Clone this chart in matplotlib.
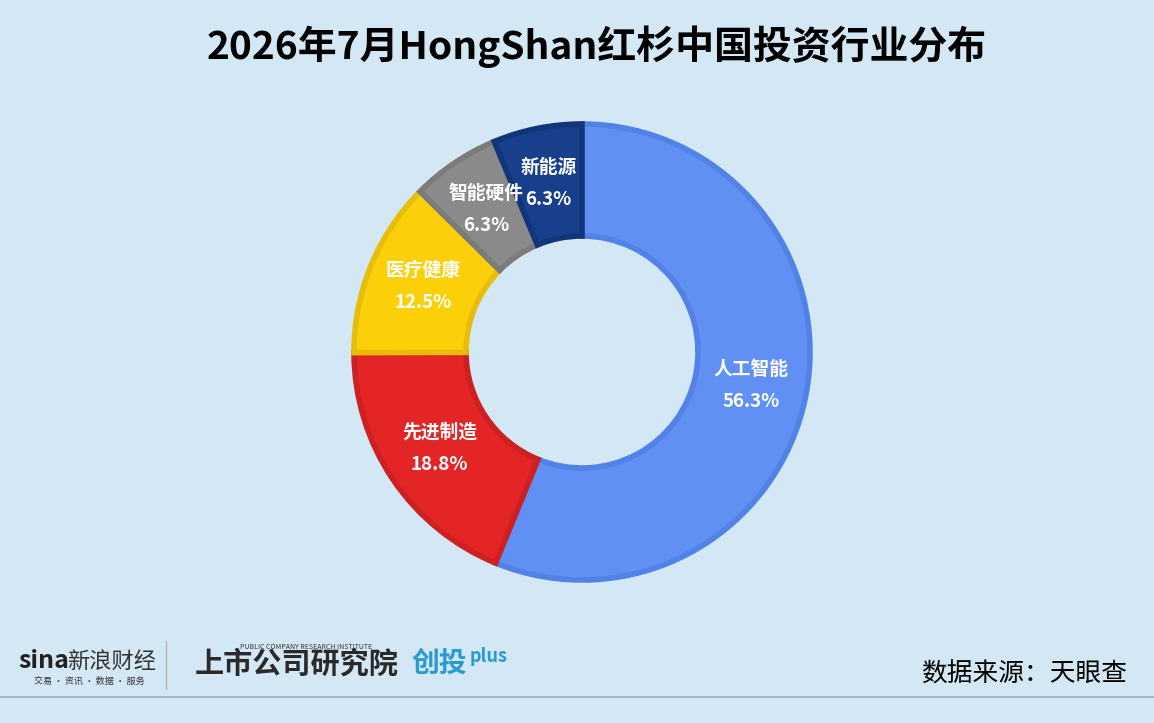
import matplotlib
matplotlib.use("Agg")
import matplotlib.pyplot as plt
from matplotlib.lines import Line2D
import numpy as np

plt.rcParams['font.family'] = ['Noto Sans CJK SC', 'DejaVu Sans']

categories = ['人工智能', '先进制造', '医疗健康', '智能硬件', '新能源']
values = [56.3, 18.8, 12.5, 6.3, 6.3]
labels_pct = ['56.3%', '18.8%', '12.5%', '6.3%', '6.3%']
colors = ['#6190F5', '#E32526', '#FBD008', '#8A8A8A', '#173F8B']
edge_colors = ['#5282E6', '#CC2022', '#E6BD0A', '#7B7B7B', '#12357A']
title = '2026年7月HongShan红杉中国投资行业分布'
source = '数据来源：天眼查'

W, H = 1154, 723
bg = '#D3E7F5'
fig = plt.figure(figsize=(W / 100, H / 100), dpi=100, facecolor=bg)

cx, cy, R = 582, 352, 230
ax = fig.add_axes([(cx - R) / W, (H - cy - R) / H, 2 * R / W, 2 * R / H])
ax.set_facecolor(bg)

outer = 228 / R
inner = 116 / R
wedges, _ = ax.pie(values, colors=colors, startangle=90, counterclock=False,
                   radius=outer, wedgeprops=dict(width=outer - inner, linewidth=0))
ax.set_xlim(-1, 1)
ax.set_ylim(-1, 1)
ax.set_aspect('equal')
ax.axis('off')
# darker inner borders
for w, ec in zip(wedges, edge_colors):
    w.set_edgecolor(ec)
    w.set_linewidth(4)
    w.set_joinstyle('miter')

mid_r = (outer + inner) / 2
total = sum(values)
start = 90.0
for i, (cat, pct, v) in enumerate(zip(categories, labels_pct, values)):
    ang = start - v / total * 360 / 2
    start -= v / total * 360
    a = np.deg2rad(ang)
    x, y = mid_r * np.cos(a), mid_r * np.sin(a)
    ax.text(x, y + 0.07, cat, ha='center', va='center', color='white',
            fontsize=13.5, fontweight='bold')
    ax.text(x, y - 0.07, pct, ha='center', va='center', color='white',
            fontsize=13.5, fontweight='bold')

fig.text(597 / W, 1 - 47 / H, title, ha='center', va='center',
         fontsize=28, fontweight='bold', color='black')

fig.text(1127 / W, 1 - 675 / H, source, ha='right', va='center',
         fontsize=18.5, color='black')

# bottom separator line
fig.add_artist(Line2D([0, 1], [1 - 697 / H, 1 - 697 / H], color='#A3AAB0',
                      linewidth=1.2, transform=fig.transFigure))

# logos approximated as text
fig.text(18 / W, 1 - 661 / H, 'sina', ha='left', va='center', fontsize=18,
         fontweight='bold', fontstyle='italic', color='#222222')
fig.text(67 / W, 1 - 661 / H, '新浪财经', ha='left', va='center', fontsize=16,
         color='#333333')
fig.text(34 / W, 1 - 681 / H, '交易 · 资讯 · 数据 · 服务', ha='left', va='center',
         fontsize=6.5, color='#333333')
fig.add_artist(Line2D([166 / W, 166 / W], [1 - 689 / H, 1 - 641 / H],
                      color='#AAAAAA', linewidth=0.8, transform=fig.transFigure))
fig.text(195 / W, 1 - 664 / H, '上市公司研究院', ha='left', va='center',
         fontsize=21, fontweight='bold', fontstyle='italic', color='#2A2A2A')
fig.text(240 / W, 1 - 647 / H, 'PUBLIC COMPANY RESEARCH INSTITUTE', ha='left',
         va='center', fontsize=5, color='#333333')
fig.text(412 / W, 1 - 664 / H, '创投', ha='left', va='center', fontsize=20,
         fontweight='bold', fontstyle='italic', color='#2A9AD0')
fig.text(470 / W, 1 - 656 / H, 'plus', ha='left', va='center', fontsize=13,
         fontweight='bold', fontstyle='italic', color='#2A9AD0')

fig.savefig('out.png', dpi=100, facecolor=bg)
